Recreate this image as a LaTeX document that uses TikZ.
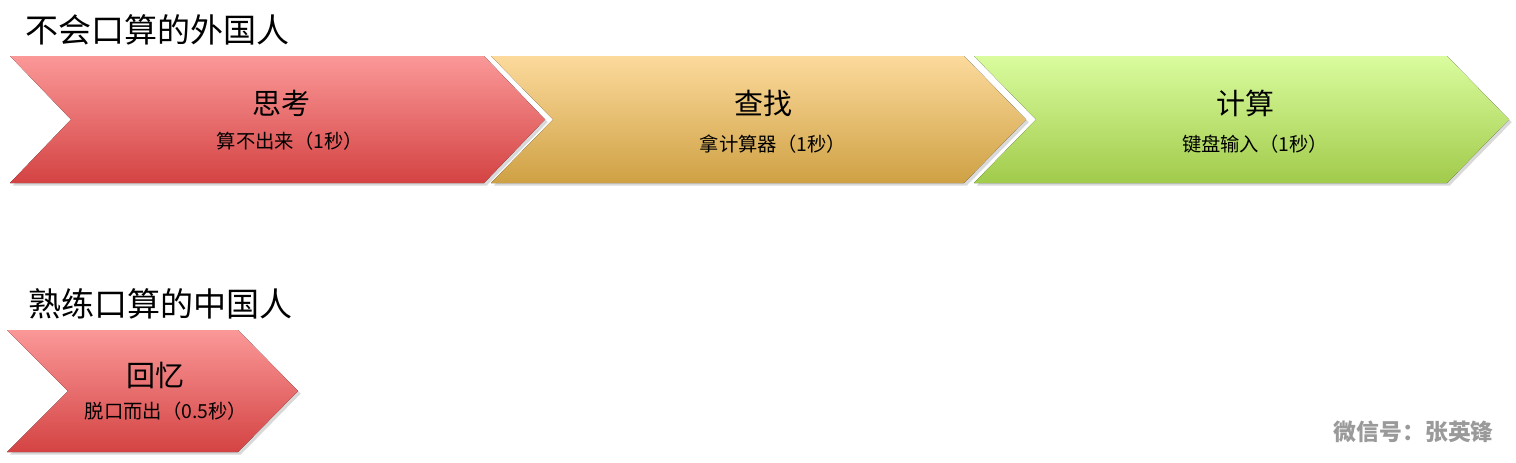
\documentclass[tikz,border=0pt]{standalone}
\usepackage{fontspec}
\setmainfont{Noto Sans CJK SC}
\usetikzlibrary{shadows}
\definecolor{redtop}{HTML}{FB9898}
\definecolor{redbot}{HTML}{D44343}
\definecolor{orangetop}{HTML}{FCDA9C}
\definecolor{orangebot}{HTML}{CFA144}
\definecolor{greentop}{HTML}{DAFC9E}
\definecolor{greenbot}{HTML}{A1CB4B}
\definecolor{markgray}{HTML}{9A9A9A}
\tikzset{
  chevron/.style={drop shadow={opacity=0.3,shadow xshift=1.5pt,shadow yshift=-1.5pt}},
  headtext/.style={anchor=west,font=\fontsize{18.8}{20}\selectfont},
  steptitle/.style={font=\fontsize{16.5}{17}\selectfont},
  stepnote/.style={font=\fontsize{11}{12}\selectfont}
}
\begin{document}
\begin{tikzpicture}[x=0.02cm, y=-0.02cm]
	    \useasboundingbox (0,0) rectangle (1516,463);
	    % foreigner
	    \node[headtext] (head1) at (19,30) {不会口算的外国人};
	    \fill[chevron, top color=redtop, bottom color=redbot] (10,56) -- (484,56) -- (545,119.5) -- (484,183) -- (10,183) -- (71,119.5) -- cycle;
	    \fill[chevron, top color=orangetop, bottom color=orangebot] (491,56) -- (964,56) -- (1026,119.5) -- (964,183) -- (491,183) -- (553,119.5) -- cycle;
	    \fill[chevron, top color=greentop, bottom color=greenbot] (974,56) -- (1447,56) -- (1509,119.5) -- (1447,183) -- (974,183) -- (1036,119.5) -- cycle;
	    \node[steptitle] (think) at (281,103) {思考};
	    \node[stepnote] (thinknote) at (290,141) {算不出来（1秒）};
	    \node[steptitle] (find) at (763,103) {查找};
	    \node[stepnote] (findnote) at (773,144) {拿计算器（1秒）};
	    \node[steptitle] (calc) at (1245,103) {计算};
	    \node[stepnote] (calcnote) at (1255,144) {键盘输入（1秒）};
	    % chinese
	    \node[headtext] (head2) at (22,304) {熟练口算的中国人};
	    \fill[chevron, top color=redtop, bottom color=redbot] (7,330) -- (238,330) -- (298,391) -- (238,452) -- (7,452) -- (68,391) -- cycle;
	    \node[steptitle] (recall) at (155,375) {回忆};
	    \node[stepnote] (recallnote) at (166,411) {脱口而出（0.5秒）};
	    \node[anchor=east, text=markgray, font=\fontsize{13}{14}\selectfont\bfseries] (mark) at (1500,432) {微信号：张英锋};
	    \end{tikzpicture}
\end{document}
